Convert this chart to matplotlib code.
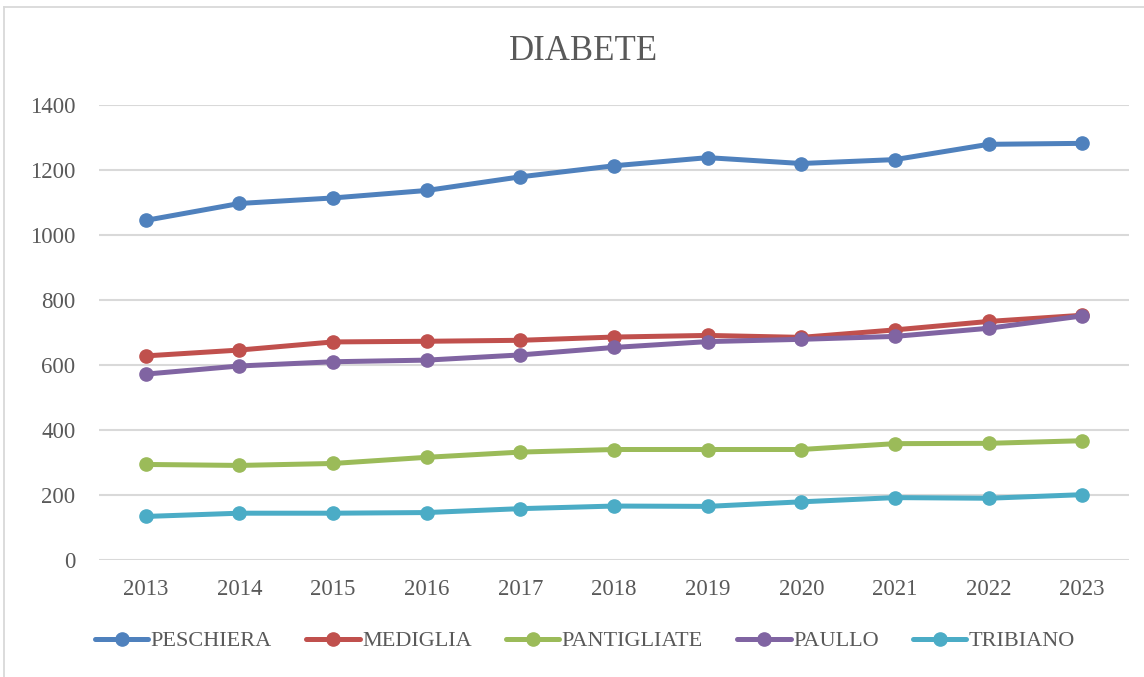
import matplotlib
matplotlib.use("Agg")
import matplotlib.pyplot as plt
from matplotlib.lines import Line2D

anni = ["2013", "2014", "2015", "2016", "2017", "2018", "2019", "2020", "2021", "2022", "2023"]

peschiera = [1045, 1097, 1114, 1137, 1179, 1213, 1238, 1220, 1232, 1279, 1282]
mediglia = [628, 646, 671, 673, 676, 686, 691, 685, 708, 734, 753]
pantigliate = [294, 291, 297, 316, 332, 340, 340, 340, 358, 359, 367]
paullo = [572, 597, 610, 615, 631, 654, 672, 679, 688, 713, 751]
tribiano = [134, 144, 144, 146, 158, 166, 165, 179, 192, 190, 201]

serie = [
    ("PESCHIERA", peschiera, "#4f81bd"),
    ("MEDIGLIA", mediglia, "#c0504d"),
    ("PANTIGLIATE", pantigliate, "#9bbb59"),
    ("PAULLO", paullo, "#8064a2"),
    ("TRIBIANO", tribiano, "#4bacc6"),
]

testo = "#595959"
griglia = "#d9d9d9"
plt.rcParams["font.family"] = ["Liberation Serif", "DejaVu Serif"]

W, H = 1144, 677
fig = plt.figure(figsize=(W / 100, H / 100), dpi=100)
ax = fig.add_axes([99 / W, 1 - 560 / H, 1030 / W, 455 / H])

x = list(range(len(anni)))
for nome, valori, colore in serie:
    ax.plot(x, valori, color=colore, lw=3.6, marker="o", ms=9.5,
            solid_capstyle="round", label=nome)

ax.set_xlim(-0.5, len(anni) - 0.5)
ax.set_ylim(0, 1400)
ax.set_yticks(range(0, 1401, 200))
ax.set_xticks(x)
ax.set_xticklabels(anni)
ax.grid(axis="y", color=griglia, lw=1.5)
ax.set_axisbelow(True)
for s in ax.spines.values():
    s.set_visible(False)
ax.tick_params(axis="both", length=0, labelsize=16.5, colors=testo)
ax.tick_params(axis="y", pad=17)
ax.tick_params(axis="x", pad=14)

fig.text(583 / W, 1 - 51 / H, "DIABETE", ha="center", va="center",
         fontsize=25, color=testo)

leg = ax.legend(loc="center", bbox_to_anchor=(585 / W, 1 - 641 / H),
                bbox_transform=fig.transFigure, ncol=5, frameon=False,
                fontsize=16, handlelength=2.4, handletextpad=0.1,
                columnspacing=1.55, numpoints=1)
for t in leg.get_texts():
    t.set_color(testo)

# cornice del grafico
fig.add_artist(Line2D([4 / W, 1], [1 - 7 / H, 1 - 7 / H], transform=fig.transFigure,
                      color=griglia, lw=1.3))
fig.add_artist(Line2D([4 / W, 4 / W], [0, 1 - 7 / H], transform=fig.transFigure,
                      color=griglia, lw=1.3))

fig.savefig("out.png", dpi=100)
